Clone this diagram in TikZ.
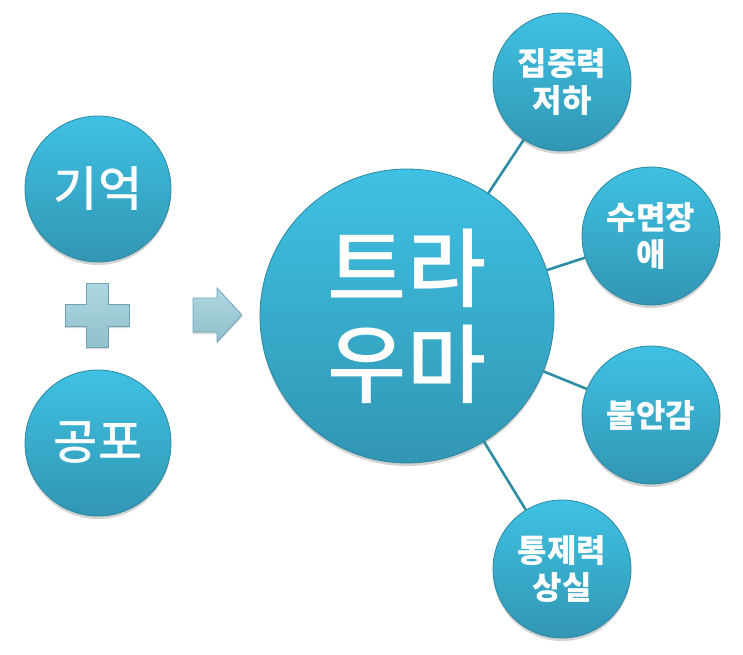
\documentclass[tikz,border=0pt]{standalone}
\usepackage{fontspec}
\newfontfamily\krfont{Noto Sans CJK KR}
\newfontfamily\krmedium{Noto Sans CJK KR Medium}
\usepackage{tikz}
\usetikzlibrary{shadows}

\definecolor{bubbletop}{HTML}{3FC1E3}
\definecolor{bubblebot}{HTML}{3196B3}
\definecolor{bubbleedge}{HTML}{2C87A0}
\definecolor{linkteal}{HTML}{2E8CA5}
\definecolor{signfill}{HTML}{9FD0DE}
\definecolor{signedge}{HTML}{6FA3B4}

\tikzset{
  bubble/.style={circle, draw=bubbleedge, line width=0.8pt, inner sep=0pt,
    top color=bubbletop, bottom color=bubblebot, text=white, align=center,
    drop shadow={shadow xshift=0pt, shadow yshift=-3pt, opacity=0.35}},
  cause/.style={bubble, minimum size=146pt, font=\krmedium\fontsize{48}{54}\selectfont},
  effect/.style={bubble, minimum size=138pt, font=\krfont\bfseries\fontsize{32}{37}\selectfont},
  link/.style={draw=linkteal, line width=2.6pt},
  sign/.style={draw=signedge, line width=0.8pt, top color=signfill!85!white, bottom color=signfill!92!black,
    drop shadow={shadow xshift=0pt, shadow yshift=-2pt, opacity=0.3}}
}

\begin{document}
\begin{tikzpicture}[x=1pt, y=-1pt]
\useasboundingbox (0,0) rectangle (743,654);
% left: memory + fear
\node[cause] (memory) at (98,189) {기억};
\node[cause] (fear) at (98,443) {공포};
\path[sign] (86,283) -- (108,283) -- (108,304) -- (129,304) -- (129,326) -- (108,326)
   -- (108,347) -- (86,347) -- (86,326) -- (65,326) -- (65,304) -- (86,304) -- cycle;
% arrow to the centre
\path[sign] (193,298) -- (217,298) -- (217,288) -- (242,315) -- (217,342) -- (217,332)
   -- (193,332) -- cycle;
% trauma and its effects
\node[bubble, minimum size=294pt, font=\krmedium\fontsize{86}{96}\selectfont] (trauma) at (407,316) {트라\\우마};
\node[effect] (focus) at (562,82) {집중력\\저하};
\node[effect] (sleep) at (651,236) {수면장\\애};
\node[effect] (anxiety) at (651,415) {불안감};
\node[effect] (control) at (562,569) {통제력\\상실};
\foreach \e in {focus, sleep, anxiety, control}
  \draw[link] (trauma) -- (\e);
\end{tikzpicture}
\end{document}
